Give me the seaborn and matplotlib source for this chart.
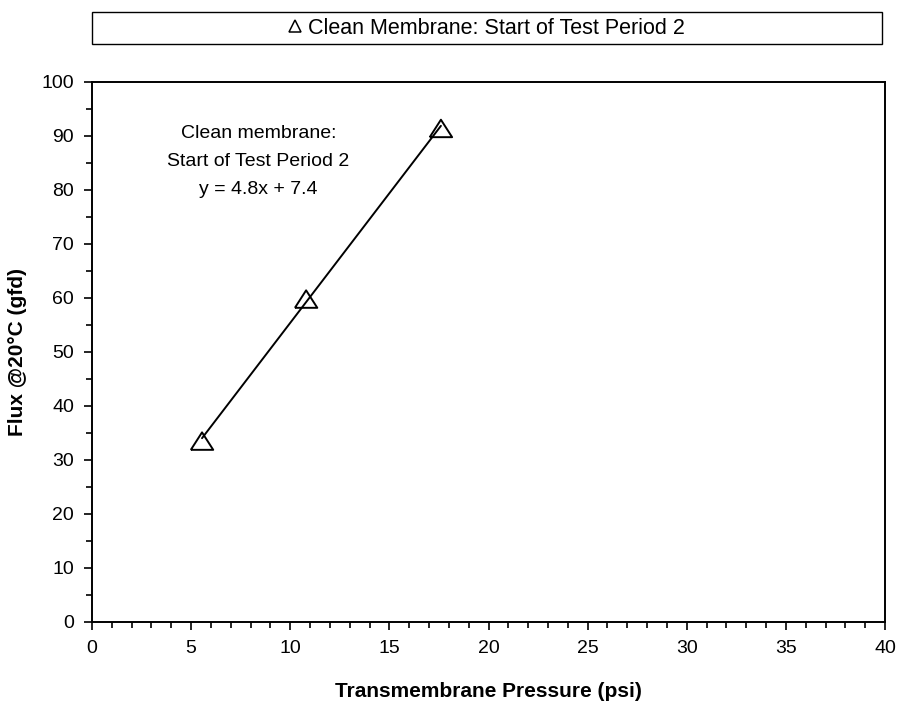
import matplotlib
matplotlib.use("Agg")
import matplotlib.pyplot as plt
import seaborn as sns
import numpy as np
import pandas as pd
from matplotlib.ticker import MultipleLocator
from matplotlib.lines import Line2D
from matplotlib.patches import Rectangle

# Data
tmp_psi = [5.55, 10.8, 17.6]
flux_gfd = [33.5, 59.8, 91.4]
series_label = "Clean Membrane: Start of Test Period 2"
annotation = "Clean membrane:\nStart of Test Period 2\ny = 4.8x + 7.4"
slope, intercept = 4.8, 7.4

sns.set_theme(style="ticks")
plt.rcParams['font.family'] = ['Liberation Sans', 'DejaVu Sans']
plt.rcParams['text.color'] = 'black'
plt.rcParams['axes.labelcolor'] = 'black'
plt.rcParams['xtick.color'] = 'black'
plt.rcParams['ytick.color'] = 'black'

df = pd.DataFrame({"TMP": tmp_psi, "Flux": flux_gfd})
tri = [(-1, -0.78), (1, -0.78), (0, 0.78), (-1, -0.78)]

fig = plt.figure(figsize=(9.02, 7.07), dpi=100)
ax = fig.add_axes([92/902, 1-622/707, (885-92)/902, (622-82)/707])

xfit = np.array([min(tmp_psi), max(tmp_psi)])
fit_df = pd.DataFrame({"TMP": xfit, "Flux": slope * xfit + intercept})
sns.lineplot(data=fit_df, x="TMP", y="Flux", ax=ax, color="black", lw=1.4, zorder=2)
sns.scatterplot(data=df, x="TMP", y="Flux", ax=ax, marker=tri, s=260,
                facecolor="none", edgecolor="black", linewidth=1.4, zorder=3)

ax.set_xlim(0, 40)
ax.set_ylim(0, 100)
ax.xaxis.set_major_locator(MultipleLocator(5))
ax.xaxis.set_minor_locator(MultipleLocator(1))
ax.yaxis.set_major_locator(MultipleLocator(10))
ax.yaxis.set_minor_locator(MultipleLocator(5))
ax.tick_params(axis="both", which="major", length=6, width=1.2, colors="black",
               labelcolor="black", labelsize=14, pad=7)
ax.tick_params(axis="both", which="minor", length=4, width=1.2, colors="black")
for sp in ax.spines.values():
    sp.set_visible(True)
    sp.set_color("black")
    sp.set_linewidth(1.4)

ax.set_xlabel("Transmembrane Pressure (psi)", fontsize=15, fontweight="bold",
              labelpad=18, color="black")
ax.set_ylabel("Flux @20°C (gfd)", fontsize=15, fontweight="bold", labelpad=10,
              color="black")

ax.text(8.4, 85.3, annotation, ha="center", va="center", fontsize=14,
        linespacing=1.85, color="black")

handle = Line2D([], [], linestyle="none", marker="^", markersize=9,
                markerfacecolor="none", markeredgecolor="black", markeredgewidth=1.1)
leg = fig.legend([handle], [series_label], loc="center",
                 bbox_to_anchor=(92/902, 1-44/707, (882-92)/902, 32/707),
                 frameon=False, fontsize=15.5, handlelength=0.6, handletextpad=0.3,
                 borderaxespad=0)
for t in leg.get_texts():
    t.set_color("black")
fig.patches.append(Rectangle((92/902, 1-44/707), (882-92)/902, 32/707,
                             transform=fig.transFigure, fill=False,
                             edgecolor="black", linewidth=1.0))

fig.savefig("out.png", dpi=100)
